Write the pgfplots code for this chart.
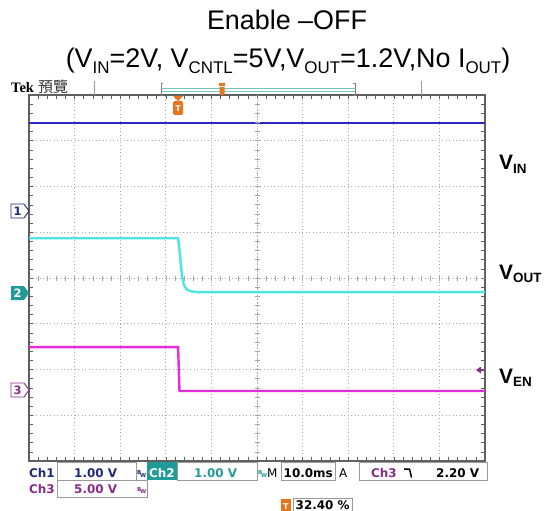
\documentclass[border=0pt]{standalone}
\usepackage{pgfplots}
\pgfplotsset{compat=1.18}
\usepackage{fontspec}
\setmainfont{Liberation Sans}
\newfontfamily\tekfont{DejaVu Sans}
\newfontfamily\tekserif{Liberation Serif}
\newfontfamily\cjk{Noto Sans CJK TC}

\definecolor{vinc}{HTML}{2A2AC2}
\definecolor{voutc}{HTML}{4CE4E4}
\definecolor{venc}{HTML}{E42CDC}
\definecolor{chone}{HTML}{1E2A78}
\definecolor{chtwo}{HTML}{1F9C98}
\definecolor{chthree}{HTML}{8A2A8A}
\definecolor{trig}{HTML}{E8741C}
\definecolor{boxgray}{HTML}{9A9A9A}

\newcommand\sub[1]{\raisebox{-0.2em}{\fontsize{17}{17}\selectfont #1}}
\newcommand\bsub[1]{\raisebox{-0.15em}{\fontsize{13.5}{13.5}\selectfont #1}}
\newcommand\bw[1]{{\tekfont\fontsize{5.5}{5.5}\selectfont\color{#1}\raisebox{2.5bp}{B}\kern-1.2bp W}}

\begin{document}
\begin{tikzpicture}
\begin{axis}[
    at={(29bp,-461bp)}, anchor=south west,
    width=456bp, height=366bp, scale only axis,
    xmin=0, xmax=100, ymin=-4, ymax=4,
    xtick={0,10,...,100}, ytick={-4,-3,...,4},
    minor x tick num=4, minor y tick num=4,
    xticklabels={}, yticklabels={},
    tick align=inside,
    major tick length=4bp, minor tick length=4bp,
    tick style={gray!75!black, line width=0.6bp},
    grid=major,
    major grid style={gray!65, line width=0.9bp, dash pattern=on 0.9bp off 2.6bp},
    axis line style={gray!75!black, line width=1.6bp},
    clip=false,
]
% VIN (Ch1)
\addplot[vinc, line width=2.4bp] coordinates {(0,3.39) (100,3.39)};
% VOUT (Ch2)
\addplot[voutc, line width=2.4bp] coordinates {
    (0,0.87) (32.7,0.87) (33.0,0.62) (33.3,0.30) (33.6,0.02)
    (34.0,-0.16) (34.6,-0.25) (35.5,-0.29) (37.0,-0.31) (100,-0.31)};
% VEN (Ch3)
\addplot[venc, line width=2.4bp] coordinates {
    (0,-1.51) (32.7,-1.51) (33.0,-2.47) (100,-2.47)};
\end{axis}

\begin{scope}[x=1bp,y=-1bp]
\useasboundingbox (0,0) rectangle (548,511);

% title
\node[anchor=base,font=\fontsize{27}{27}\selectfont] at (287,30) {Enable \textendash OFF};
\node[anchor=base,font=\fontsize{27}{27}\selectfont] at (288,68)
  {(V\sub{IN}=2V, V\sub{CNTL}=5V,V\sub{OUT}=1.2V,No I\sub{OUT})};

% scope header
\node[anchor=base west,inner sep=0,font=\tekserif\bfseries\fontsize{14.5}{14.5}\selectfont] at (11,93) {Tek};
\node[anchor=base west,inner sep=0,font=\cjk\fontsize{15}{15}\selectfont,gray!40!black] at (38,93) {預覽};
\draw[boxgray,line width=0.8bp] (94,81) -- (94,95) (421,81) -- (421,95);
\draw[chtwo!60,line width=0.8bp] (161,88) -- (355,88) (161,91) -- (355,91);
\draw[gray,line width=0.8bp] (163,83) -- (161,83) -- (161,95) -- (163,95);
\draw[gray,line width=0.8bp] (353,83) -- (355,83) -- (355,95) -- (353,95);
\fill[trig] (219,83) rectangle (225,86) (219.5,87) rectangle (224.5,95);

% centre cross with fine ticks
\draw[gray!65, line width=0.9bp, dash pattern=on 0.9bp off 2.6bp] (29,278) -- (485,278) (257,95) -- (257,461);
\foreach \k in {1,...,49} \draw[gray!70, line width=0.6bp] ({29+9.12*\k},275.5) -- ({29+9.12*\k},280.5);
\foreach \k in {1,...,39} \draw[gray!70, line width=0.6bp] (254.5,{95+9.15*\k}) -- (259.5,{95+9.15*\k});

% trigger position marker
\fill[trig] (173,96) -- (183,96) -- (178,101) -- cycle;
\fill[trig,rounded corners=1.5bp] (173,101) rectangle (183,115);
\node[white,font=\tekfont\bfseries\fontsize{8}{8}\selectfont,inner sep=0] at (178,108.5) {T};
% trigger level marker
\fill[chthree] (476,370) -- (481,366.5) -- (481,373.5) -- cycle;
\draw[chthree,line width=1bp] (480,370) -- (485,370);

% channel ground markers
\draw[chone,line width=0.9bp,fill=white] (11,204) -- (24,204) -- (29,211) -- (24,218) -- (11,218) -- cycle;
\node[chone,font=\tekfont\bfseries\fontsize{11.5}{11.5}\selectfont,inner sep=0] at (17.5,211) {1};
\fill[chtwo] (11,286) -- (24,286) -- (29,293) -- (24,300) -- (11,300) -- cycle;
\node[white,font=\tekfont\bfseries\fontsize{11.5}{11.5}\selectfont,inner sep=0] at (17.5,293) {2};
\draw[chthree,line width=0.9bp,fill=white] (11,383) -- (24,383) -- (29,390) -- (24,397) -- (11,397) -- cycle;
\node[chthree,font=\tekfont\bfseries\fontsize{11.5}{11.5}\selectfont,inner sep=0] at (17.5,390) {3};

% trace labels
\node[anchor=base west,inner sep=0,font=\bfseries\fontsize{21}{21}\selectfont] at (499,170) {V\bsub{IN}};
\node[anchor=base west,inner sep=0,font=\bfseries\fontsize{21}{21}\selectfont] at (499,279) {V\bsub{OUT}};
\node[anchor=base west,inner sep=0,font=\bfseries\fontsize{21}{21}\selectfont] at (499,383) {V\bsub{EN}};

% status bar
\begin{scope}[every node/.style={anchor=base west,inner sep=0,font=\tekfont\bfseries\fontsize{12}{12}\selectfont}]
\draw[boxgray,line width=0.7bp] (57,462) rectangle (136,480);
\draw[boxgray,line width=0.7bp] (177,462) rectangle (257,480);
\draw[boxgray,line width=0.7bp] (281,462) rectangle (335,480);
\draw[boxgray,line width=0.7bp] (359,462) rectangle (487,480);
\draw[boxgray,line width=0.7bp] (57,480) rectangle (147,497);
\fill[chtwo] (147,462) rectangle (177,480);
\node[chone] at (29,477) {Ch1};
\node[chone] at (74,477) {1.00 V};
\node at (137,477) {\bw{chone}};
\node[white] at (149,477) {Ch2};
\node[chtwo] at (194,477) {1.00 V};
\node at (258,477) {\bw{chtwo}};
\node[font=\tekfont\fontsize{12}{12}\selectfont] at (267,477) {M};
\node at (283.5,477) {10.0ms};
\node[font=\tekfont\fontsize{12}{12}\selectfont] at (339,477) {A};
\node[chthree] at (371,477) {Ch3};
\draw[black,line width=1.5bp] (404,469) -- (409.5,469) -- (411.5,477.5);
\node at (436,477) {2.20 V};
\node[chthree] at (29,493.5) {Ch3};
\node[chthree] at (74,493.5) {5.00 V};
\node at (137,493.5) {\bw{chthree}};
\fill[trig] (281,499) rectangle (291,511);
\node[white,font=\tekfont\bfseries\fontsize{8}{8}\selectfont] at (283,509) {T};
\draw[boxgray,line width=0.7bp] (293,498) rectangle (352,512);
\node at (295.5,509.5) {32.40 \%};
\end{scope}
\end{scope}
\end{tikzpicture}
\end{document}
